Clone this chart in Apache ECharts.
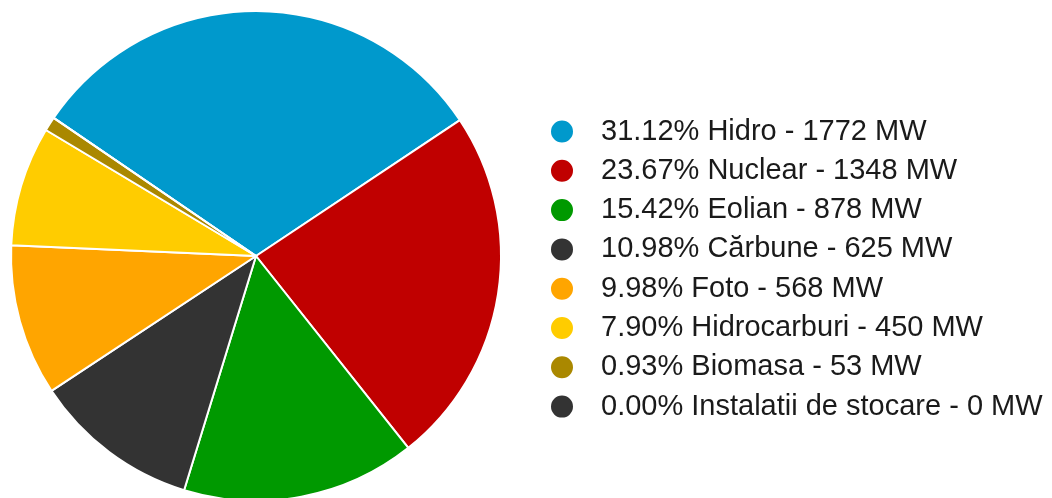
<!DOCTYPE html>
<html>
<head>
<meta charset="utf-8">
<script src="https://cdn.jsdelivr.net/npm/echarts@6/dist/echarts.min.js"></script>
<style>
  html, body { margin: 0; padding: 0; background: #ffffff; }
  #chart { width: 1052px; height: 498px; }
</style>
</head>
<body>
<div id="chart"></div>
<script>
// Installed capacity by source (MW)
const sources = ['Hidro', 'Nuclear', 'Eolian', 'Cărbune', 'Foto', 'Hidrocarburi', 'Biomasa', 'Instalatii de stocare'];
const capacityMW = [1772, 1348, 878, 625, 568, 450, 53, 0];
const sliceColors = ['#0099cc', '#c00000', '#009900', '#333333', '#ffa500', '#ffcc00', '#aa8800', '#333333'];

const total = capacityMW.reduce((a, b) => a + b, 0);
const pieData = sources.map((name, i) => ({
  name: name,
  value: capacityMW[i],
  itemStyle: { color: sliceColors[i] }
}));

const chart = echarts.init(document.getElementById('chart'), null, { renderer: 'canvas' });
chart.setOption({
  animation: false,
  legend: {
    orient: 'vertical',
    left: 544,
    top: 112,
    padding: 5,
    icon: 'circle',
    itemWidth: 24,
    itemHeight: 24,
    itemGap: 10.3,
    selectedMode: false,
    textStyle: {
      fontFamily: 'Liberation Sans, Arial, sans-serif',
      fontSize: 29,
      lineHeight: 29,
      color: '#1a1a1a',
      padding: [0, 0, 0, 22]
    },
    formatter: function (name) {
      const i = sources.indexOf(name);
      const pct = (capacityMW[i] / total * 100).toFixed(2);
      return pct + '% ' + name + ' - ' + capacityMW[i] + ' MW';
    }
  },
  series: [{
    type: 'pie',
    center: [256, 256],
    radius: [0, 245],
    startAngle: 145.7,
    clockwise: true,
    label: { show: false },
    labelLine: { show: false },
    itemStyle: { borderColor: '#ffffff', borderWidth: 2 },
    emphasis: { disabled: true },
    data: pieData
  }]
});
</script>
</body>
</html>
